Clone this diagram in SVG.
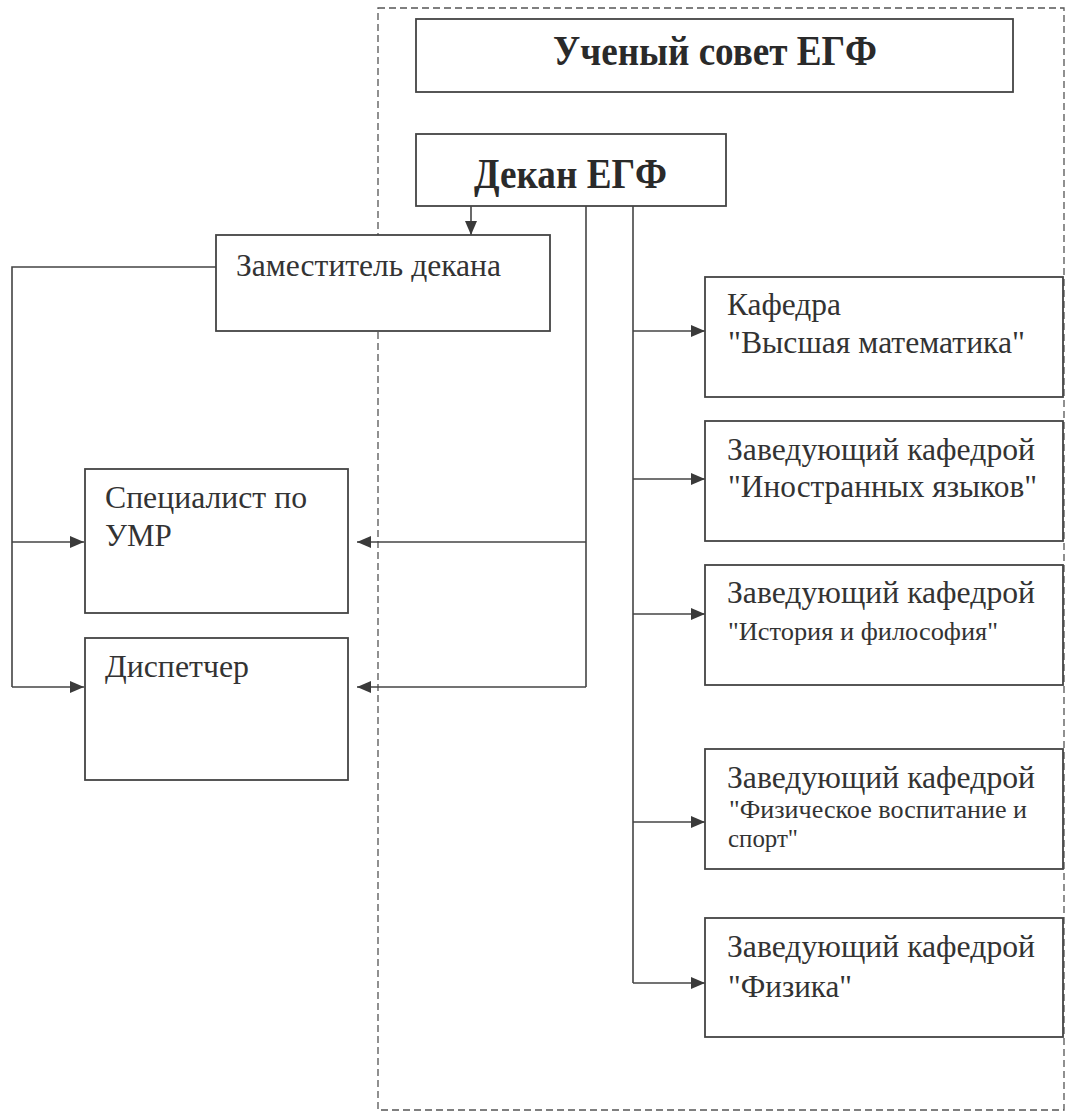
<svg xmlns="http://www.w3.org/2000/svg" width="1069" height="1115" viewBox="0 0 1069 1115">
<defs>
<style>
.box{fill:#fff;stroke:#444;stroke-width:1.8}
.frame{fill:none;stroke:#555;stroke-width:1.3;stroke-dasharray:7 4}
.conn{fill:none;stroke:#444;stroke-width:1.6}
.t{font-family:"Liberation Serif","Times New Roman",serif;fill:#333;font-size:31px}
.b{font-weight:bold;font-size:42px;fill:#2a2a2a}
.s{font-size:25px}
</style>
<marker id="ah" viewBox="0 0 14 12" refX="14" refY="6" markerWidth="14" markerHeight="12" markerUnits="userSpaceOnUse" orient="auto">
<path d="M0,0 L14,6 L0,12 Z" fill="#3a3a3a"/>
</marker>
</defs>
<rect width="1069" height="1115" fill="#fff"/>
<rect class="frame" x="378" y="8" width="686" height="1102"/>
<g id="connectors">
<path class="conn" d="M471,206 V235" marker-end="url(#ah)"/>
<path class="conn" d="M216,267 H12 V687"/>
<path class="conn" d="M12,542 H84" marker-end="url(#ah)"/>
<path class="conn" d="M12,687 H84" marker-end="url(#ah)"/>
<path class="conn" d="M586,206 V687"/>
<path class="conn" d="M586,542 H357" marker-end="url(#ah)"/>
<path class="conn" d="M586,687 H357" marker-end="url(#ah)"/>
<path class="conn" d="M633,206 V983"/>
<path class="conn" d="M633,331 H705" marker-end="url(#ah)"/>
<path class="conn" d="M633,479 H705" marker-end="url(#ah)"/>
<path class="conn" d="M633,614 H705" marker-end="url(#ah)"/>
<path class="conn" d="M633,822 H705" marker-end="url(#ah)"/>
<path class="conn" d="M633,983 H705" marker-end="url(#ah)"/>
</g>
<g id="sovet">
<rect class="box" x="416" y="19" width="597" height="73"/>
<text class="t b" x="553" y="65" textLength="324" lengthAdjust="spacingAndGlyphs">Ученый совет ЕГФ</text>
</g>
<g id="dekan">
<rect class="box" x="416" y="134" width="310" height="72"/>
<text class="t b" x="474" y="188" textLength="193" lengthAdjust="spacingAndGlyphs">Декан ЕГФ</text>
</g>
<g id="zam">
<rect class="box" x="216" y="235" width="334" height="96"/>
<text class="t" x="236" y="276" textLength="265" lengthAdjust="spacingAndGlyphs">Заместитель декана</text>
</g>
<g id="umr">
<rect class="box" x="85" y="469" width="263" height="144"/>
<text class="t" x="105" y="508" textLength="202" lengthAdjust="spacingAndGlyphs">Специалист по</text>
<text class="t" x="105" y="546">УМР</text>
</g>
<g id="dispatcher">
<rect class="box" x="85" y="638" width="263" height="142"/>
<text class="t" x="105" y="677" textLength="144" lengthAdjust="spacingAndGlyphs">Диспетчер</text>
</g>
<g id="k1">
<rect class="box" x="705" y="277" width="358" height="120"/>
<text class="t" x="727" y="315" textLength="114" lengthAdjust="spacingAndGlyphs">Кафедра</text>
<text class="t" x="728" y="353" textLength="297" lengthAdjust="spacingAndGlyphs">"Высшая математика"</text>
</g>
<g id="k2">
<rect class="box" x="705" y="421" width="358" height="120"/>
<text class="t" x="727" y="460" textLength="308" lengthAdjust="spacingAndGlyphs">Заведующий кафедрой</text>
<text class="t" x="728" y="497" textLength="309" lengthAdjust="spacingAndGlyphs">"Иностранных языков"</text>
</g>
<g id="k3">
<rect class="box" x="705" y="565" width="358" height="120"/>
<text class="t" x="727" y="603" textLength="308" lengthAdjust="spacingAndGlyphs">Заведующий кафедрой</text>
<text class="t s" x="728" y="640" textLength="270" lengthAdjust="spacingAndGlyphs">"История и философия"</text>
</g>
<g id="k4">
<rect class="box" x="705" y="749" width="358" height="120"/>
<text class="t" x="727" y="788" textLength="308" lengthAdjust="spacingAndGlyphs">Заведующий кафедрой</text>
<text class="t s" x="729" y="818" textLength="298" lengthAdjust="spacingAndGlyphs">"Физическое воспитание и</text>
<text class="t s" x="728" y="847" textLength="70" lengthAdjust="spacingAndGlyphs">спорт"</text>
</g>
<g id="k5">
<rect class="box" x="705" y="918" width="358" height="119"/>
<text class="t" x="727" y="957" textLength="308" lengthAdjust="spacingAndGlyphs">Заведующий кафедрой</text>
<text class="t" x="728" y="997" textLength="124" lengthAdjust="spacingAndGlyphs">"Физика"</text>
</g>
</svg>
